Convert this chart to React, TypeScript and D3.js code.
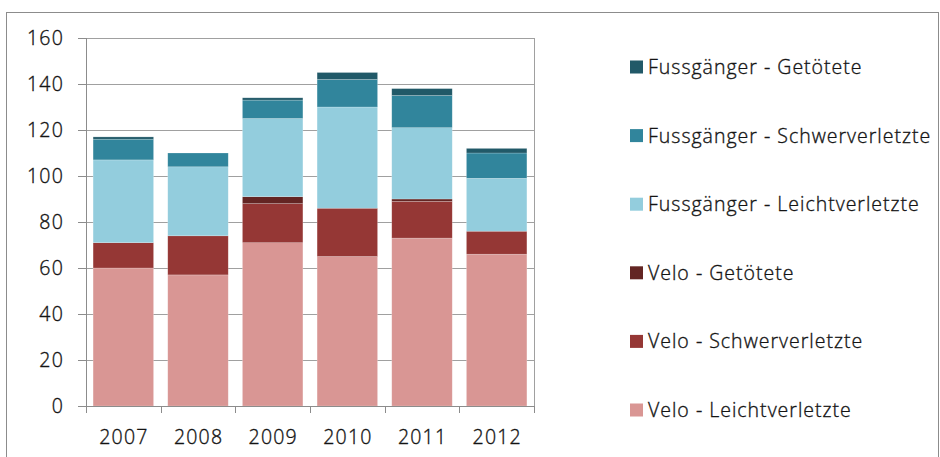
import React, { useEffect, useRef } from 'react';
import * as d3 from 'd3';

const years = ['2007', '2008', '2009', '2010', '2011', '2012'];

// stacked bottom -> top
const veloLeicht = [60, 57, 71, 65, 73, 66];
const veloSchwer = [11, 17, 17, 21, 16, 10];
const veloGetoetet = [0, 0, 3, 0, 1, 0];
const fussLeicht = [36, 30, 34, 44, 31, 23];
const fussSchwer = [9, 6, 8, 12, 14, 11];
const fussGetoetet = [1, 0, 1, 3, 3, 2];

const seriesNames = [
  'Velo - Leichtverletzte',
  'Velo - Schwerverletzte',
  'Velo - Getötete',
  'Fussgänger - Leichtverletzte',
  'Fussgänger - Schwerverletzte',
  'Fussgänger - Getötete',
];
const seriesColors = ['#d99694', '#953735', '#632523', '#93cddd', '#31859c', '#215968'];
const yTicks = [0, 20, 40, 60, 80, 100, 120, 140, 160];

export default function App() {
  const ref = useRef<SVGSVGElement>(null);

  useEffect(() => {
    if (!ref.current) return;
    const svg = d3.select(ref.current);
    svg.selectAll('*').remove();

    const font = "'Open Sans', 'Noto Sans', sans-serif";
    const weight = 300;
    const ink = '#141414';
    const left = 86, right = 534, top = 38, bottom = 406;

    // outer frame
    svg.append('rect')
      .attr('x', 6.5).attr('y', 12.5)
      .attr('width', 932).attr('height', 470)
      .attr('fill', 'none').attr('stroke', '#8c8c8c').attr('stroke-width', 1);

    const x = d3.scaleBand().domain(years).range([left, right]).paddingInner(0.19).paddingOuter(0.095);
    const y = d3.scaleLinear().domain([0, 160]).range([bottom, top]);

    // gridlines
    svg.append('g').selectAll('line')
      .data(yTicks.filter(d => d > 0))
      .join('line')
      .attr('x1', left).attr('x2', right)
      .attr('y1', d => Math.round(y(d)) + 0.5).attr('y2', d => Math.round(y(d)) + 0.5)
      .attr('stroke', '#a0a0a0').attr('stroke-width', 1);

    // right border of plot area
    svg.append('line')
      .attr('x1', right + 0.5).attr('x2', right + 0.5)
      .attr('y1', top).attr('y2', bottom)
      .attr('stroke', '#a0a0a0');

    // stacked bars
    const rows = years.map((yr, i) => ({
      year: yr,
      v: [veloLeicht[i], veloSchwer[i], veloGetoetet[i], fussLeicht[i], fussSchwer[i], fussGetoetet[i]],
    }));
    const stack = d3.stack<any>()
      .keys(d3.range(6).map(String))
      .value((d, k) => d.v[+k]);
    const stacked = stack(rows);

    svg.append('g').selectAll('g')
      .data(stacked)
      .join('g')
      .attr('fill', (_, i) => seriesColors[i])
      .selectAll('rect')
      .data(d => d.filter(s => s[1] - s[0] > 0))
      .join('rect')
      .attr('x', d => x(d.data.year)!)
      .attr('width', x.bandwidth())
      .attr('y', d => y(d[1]))
      .attr('height', d => y(d[0]) - y(d[1]))
      .attr('stroke', 'rgba(255,255,255,0.35)')
      .attr('stroke-width', 0.6);

    // shared text styling
    const styleText = (sel: any, size: number, spacing: number) => sel
      .attr('font-family', font)
      .attr('font-weight', weight)
      .attr('font-size', size)
      .attr('letter-spacing', spacing)
      .attr('fill', ink)
      .attr('stroke', ink)
      .attr('stroke-width', 0.35);

    // y axis
    const yAxis = svg.append('g');
    yAxis.append('line')
      .attr('x1', left + 0.5).attr('x2', left + 0.5)
      .attr('y1', top).attr('y2', bottom)
      .attr('stroke', '#8c8c8c');
    yAxis.selectAll('line.tick')
      .data(yTicks)
      .join('line')
      .attr('class', 'tick')
      .attr('x1', left - 8).attr('x2', left)
      .attr('y1', d => Math.round(y(d)) + 0.5).attr('y2', d => Math.round(y(d)) + 0.5)
      .attr('stroke', '#8c8c8c');
    yAxis.selectAll('text')
      .data(yTicks)
      .join('text')
      .attr('x', 64)
      .attr('y', d => y(d))
      .attr('dy', '0.36em')
      .attr('text-anchor', 'end')
      .call(styleText, 19.5, 1.2)
      .text(d => d);

    // x axis
    const xAxis = svg.append('g');
    xAxis.append('line')
      .attr('x1', left).attr('x2', right)
      .attr('y1', bottom + 0.5).attr('y2', bottom + 0.5)
      .attr('stroke', '#8c8c8c');
    const step = (right - left) / years.length;
    xAxis.selectAll('line.tick')
      .data(d3.range(years.length + 1))
      .join('line')
      .attr('class', 'tick')
      .attr('x1', i => Math.round(left + i * step) + 0.5).attr('x2', i => Math.round(left + i * step) + 0.5)
      .attr('y1', bottom).attr('y2', bottom + 7)
      .attr('stroke', '#8c8c8c');
    xAxis.selectAll('text')
      .data(years)
      .join('text')
      .attr('x', d => x(d)! + x.bandwidth() / 2 + 0.6)
      .attr('y', 444)
      .attr('text-anchor', 'middle')
      .call(styleText, 19.5, 1.2)
      .text(d => d);

    // legend (top -> bottom is reverse of stack)
    const legendOrder = d3.range(6).reverse();
    const lg = svg.append('g').selectAll('g')
      .data(legendOrder)
      .join('g')
      .attr('transform', (_, i) => `translate(630,${67 + i * 68.6})`);
    lg.append('rect')
      .attr('x', 0).attr('y', -6.5)
      .attr('width', 13).attr('height', 13)
      .attr('fill', k => seriesColors[k]);
    lg.append('text')
      .attr('x', 18)
      .attr('dy', '0.36em')
      .call(styleText, 19.5, 1.0)
      .text(k => seriesNames[k]);
  }, []);

  return (
    <div style={{ position: 'absolute', left: 0, top: 0 }}>
      <svg ref={ref} width={940} height={457} style={{ display: 'block', background: '#fff' }} />
    </div>
  );
}
